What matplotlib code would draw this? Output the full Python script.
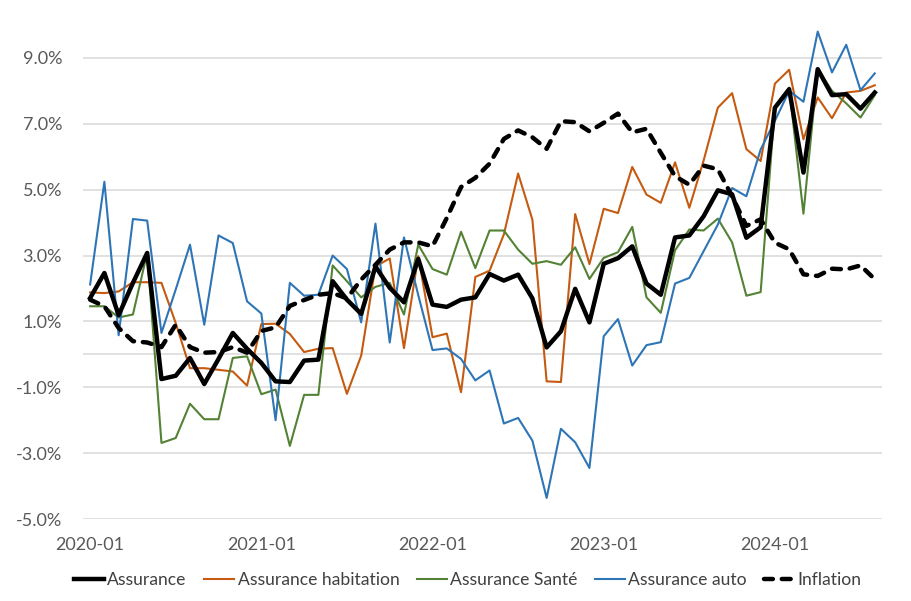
#! /usr/bin/env python3
# -*- coding: utf-8 -*-

import numpy as np
import matplotlib
matplotlib.use("Agg")
import matplotlib.pyplot as plt

# monthly series, 2020-01 .. 2024-08 (% yoy)
months = [f"{y}-{m:02d}" for y in range(2020, 2025) for m in range(1, 13)][:56]

assurance = [1.71, 2.47, 1.19, 2.17, 3.08, -0.75, -0.65, -0.11, -0.90, -0.14,
             0.65, 0.17, -0.26, -0.82, -0.84, -0.19, -0.16, 2.22, 1.66, 1.23,
             2.67, 2.02, 1.58, 2.90, 1.51, 1.44, 1.66, 1.73, 2.44, 2.24,
             2.42, 1.70, 0.21, 0.70, 1.99, 0.97, 2.75, 2.92, 3.28, 2.15,
             1.81, 3.55, 3.61, 4.19, 4.98, 4.86, 3.54, 3.86, 7.49, 8.05,
             5.52, 8.66, 7.87, 7.90, 7.46, 7.95]
habitation = [1.88, 1.86, 1.91, 2.19, 2.19, 2.17, 0.95, -0.42, -0.42, -0.47,
              -0.52, -0.95, 0.92, 0.93, 0.62, 0.07, 0.17, 0.19, -1.20, -0.04,
              2.67, 2.91, 0.19, 2.98, 0.52, 0.63, -1.15, 2.35, 2.54, 3.64,
              5.49, 4.09, -0.82, -0.84, 4.26, 2.74, 4.42, 4.29, 5.69, 4.85,
              4.60, 5.83, 4.45, 5.88, 7.49, 7.93, 6.23, 5.87, 8.22, 8.64,
              6.53, 7.80, 7.17, 7.95, 8.00, 8.17]
sante = [1.46, 1.46, 1.12, 1.21, 3.08, -2.69, -2.54, -1.50, -1.97, -1.97,
         -0.11, -0.06, -1.21, -1.07, -2.78, -1.23, -1.23, 2.70, 2.22, 1.73,
         2.05, 2.17, 1.21, 3.33, 2.59, 2.42, 3.72, 2.62, 3.76, 3.76,
         3.18, 2.75, 2.83, 2.72, 3.25, 2.29, 2.93, 3.10, 3.87, 1.73,
         1.26, 3.16, 3.79, 3.76, 4.12, 3.40, 1.78, 1.89, 7.52, 8.10,
         4.27, 8.66, 8.00, 7.62, 7.19, 7.87]
auto = [2.12, 5.24, 0.58, 4.11, 4.06, 0.65, 1.97, 3.33, 0.90, 3.61,
        3.38, 1.61, 1.24, -2.00, 2.17, 1.78, 1.81, 3.00, 2.59, 0.97,
        3.97, 0.36, 3.55, 1.80, 0.13, 0.18, -0.14, -0.79, -0.49, -2.10,
        -1.93, -2.62, -4.36, -2.26, -2.67, -3.45, 0.55, 1.07, -0.34, 0.28,
        0.37, 2.15, 2.32, 3.13, 3.94, 5.05, 4.80, 6.22, 7.09, 8.00,
        7.67, 9.80, 8.56, 9.40, 8.02, 8.53]
inflation = [1.66, 1.46, 0.80, 0.40, 0.36, 0.22, 0.90, 0.22, 0.05, 0.07,
             0.22, 0.05, 0.71, 0.82, 1.47, 1.65, 1.81, 1.86, 1.70, 2.27,
             2.72, 3.18, 3.40, 3.40, 3.28, 4.14, 5.08, 5.36, 5.79, 6.54,
             6.80, 6.59, 6.24, 7.08, 7.05, 6.77, 7.03, 7.31, 6.74, 6.85,
             6.12, 5.41, 5.15, 5.73, 5.62, 4.80, 3.90, 4.10, 3.39, 3.19,
             2.43, 2.38, 2.60, 2.58, 2.70, 2.28]

yticks = [-5, -3, -1, 1, 3, 5, 7, 9]


def main():
    plt.rcParams['font.family'] = ['Lato', 'DejaVu Sans']

    fig = plt.figure(figsize=(9.12, 6.01), dpi=100)
    ax = fig.add_axes([0.091, 0.1364, 0.876, 0.822])

    x = np.arange(len(months))
    ax.plot(x, habitation, color="#C55A11", lw=1.5, label="Assurance habitation", zorder=3)
    ax.plot(x, sante, color="#548235", lw=1.5, label="Assurance Santé", zorder=3)
    ax.plot(x, auto, color="#2E75B6", lw=1.5, label="Assurance auto", zorder=3)
    ax.plot(x, assurance, color="black", lw=3.2, label="Assurance", zorder=4,
            solid_joinstyle="round")
    ax.plot(x, inflation, color="black", lw=3.2, label="Inflation", zorder=4,
            dashes=(2.0, 2.0), dash_capstyle="round")

    ax.set_xlim(-0.5, len(months) - 0.5)
    ax.set_ylim(-5, 10)
    ax.set_yticks(yticks)
    ax.set_yticklabels([f"{v:.1f}%" for v in yticks])
    ax.set_xticks(x[::12])
    ax.set_xticklabels(months[::12])

    for v in yticks + [0]:
        ax.axhline(v, color="#D9D9D9", lw=1.1, zorder=1)

    for s in ax.spines.values():
        s.set_visible(False)
    ax.tick_params(axis="both", length=0, labelsize=13, labelcolor="#595959")
    ax.tick_params(axis="y", pad=15)
    ax.tick_params(axis="x", pad=13)

    handles, labels = ax.get_legend_handles_labels()
    order = ["Assurance", "Assurance habitation", "Assurance Santé",
             "Assurance auto", "Inflation"]
    hmap = dict(zip(labels, handles))
    fig.legend([hmap[k] for k in order], order, loc="center",
               bbox_to_anchor=(0.513, 0.035), ncol=5, frameon=False,
               fontsize=12.6, handlelength=1.7, handletextpad=0.2,
               columnspacing=1.0, labelcolor="#404040")

    fig.savefig("out.png", dpi=100)


if __name__ == '__main__':
    main()
